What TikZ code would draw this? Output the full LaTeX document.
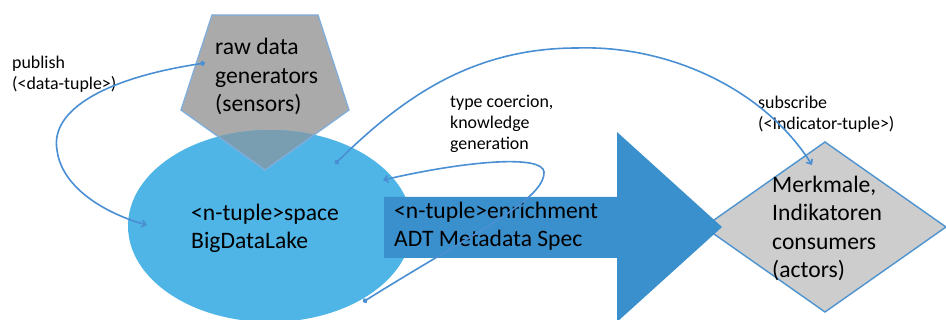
\documentclass[tikz,border=0pt]{standalone}
\usepackage{fontspec}
\setmainfont{Carlito}
\usetikzlibrary{shapes.geometric,arrows.meta}
\definecolor{lakeblue}{HTML}{4FB5E6}
\definecolor{arrowblue}{HTML}{3A8FCD}
\definecolor{genfill}{HTML}{AAAAAA}
\definecolor{overlapfill}{HTML}{7A9EB1}
\definecolor{genborder}{HTML}{7FAEDC}
\definecolor{consfill}{HTML}{CDCDCD}
\definecolor{consborder}{HTML}{4C93D0}
\definecolor{connblue}{HTML}{4A8FD3}
\tikzset{
  bigtext/.style={inner sep=0pt, align=left, anchor=base west, font=\fontsize{23.6}{28.5}\selectfont},
  smalltext/.style={inner sep=0pt, align=left, anchor=base west, font=\fontsize{17.9}{21}\selectfont},
  conn/.style={draw=connblue, line width=1.6pt, {Circle[length=5pt]}-{Straight Barb[length=4pt,width=7pt]}},
}
\begin{document}
\begin{tikzpicture}[x=1pt,y=-1pt]
\useasboundingbox (0,0) rectangle (946,320);
\clip (0,0) rectangle (946,320);
% generator pentagon
\coordinate (g1) at (212,15);
\coordinate (g2) at (318,15);
\coordinate (g3) at (349,110);
\coordinate (g4) at (265,170);
\coordinate (g5) at (181,110);
\fill[genfill] (g1) -- (g2) -- (g3) -- (g4) -- (g5) -- cycle;
% lake ellipse
\node[ellipse, fill=lakeblue, minimum width=284pt, minimum height=192pt, inner sep=0pt] (lake) at (270,226) {};
\begin{scope}
  \clip (270,226) ellipse [x radius=142pt, y radius=96pt];
  \fill[overlapfill] (g1) -- (g2) -- (g3) -- (g4) -- (g5) -- cycle;
\end{scope}
\draw[genborder, line width=1.3pt, line join=miter] (g1) -- (g2) -- (g3) -- (g4) -- (g5) -- cycle;
% consumers diamond
\coordinate (d1) at (825,142);
\coordinate (d2) at (946,227);
\coordinate (d3) at (825,312);
\coordinate (d4) at (704,227);
\filldraw[fill=consfill, draw=consborder, line width=1.4pt] (d1) -- (d2) -- (d3) -- (d4) -- cycle;
% enrichment arrow
\fill[arrowblue] (384,197) -- (617,197) -- (617,132) -- (722,227) -- (617,322) -- (617,258) -- (384,258) -- cycle;
% texts (anchor = baseline of the last line)
\node[bigtext] (gen) at (215,112) {raw data\\generators\\(sensors)};
\node[bigtext] (laketext) at (191,249) {<n-tuple>space\\BigDataLake};
\node[bigtext] (enrich) at (394,247) {<n-tuple>enrichment\\ADT Metadata Spec};
\node[bigtext] (cons) at (772,278) {Merkmale,\\Indikatoren\\consumers\\(actors)};
\node[smalltext] (publab) at (12,90) {publish\\(<data-tuple>)};
\node[smalltext] (tclab) at (450,150) {type coercion,\\knowledge\\generation};
\node[smalltext] (sublab) at (758,130) {subscribe\\(<Indicator-tuple>)};
% connectors
\coordinate (pubS) at (205,63);
\coordinate (pubE) at (147,225);
\draw[conn] (pubS) .. controls (105,78) and (50,110) .. (57,150) .. controls (62,190) and (110,215) .. (pubE);
\coordinate (tcS) at (363,302);
\coordinate (tcE) at (383,180);
\draw[conn] (tcS) .. controls (470,235) and (545,200) .. (544,172) .. controls (543,155) and (470,160) .. (tcE);
\coordinate (subS) at (335,164);
\coordinate (subE) at (812,165);
\draw[conn] (subS) .. controls (400,100) and (470,48) .. (577,48) .. controls (670,45) and (765,90) .. (subE);
\end{tikzpicture}
\end{document}
